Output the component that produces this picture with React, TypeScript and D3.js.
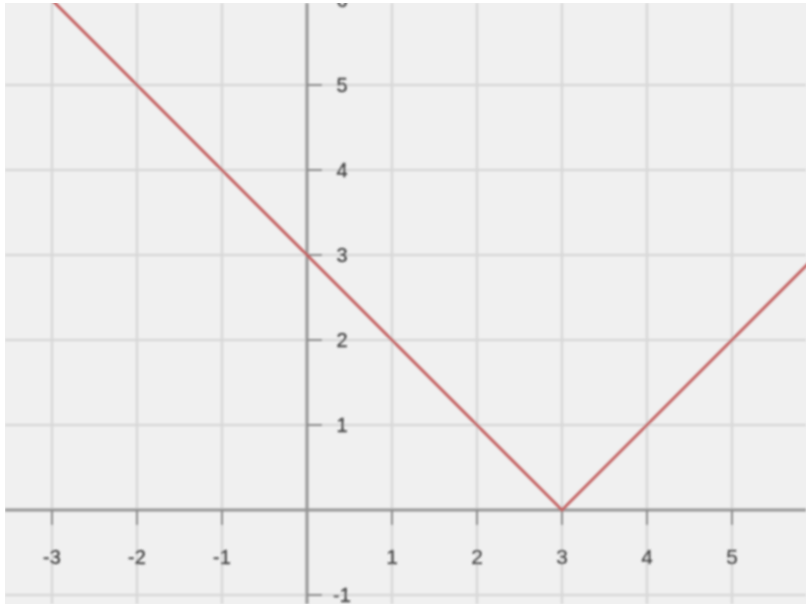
import * as d3 from 'd3';

// the traced curve (y = |x - 3|)
const curveX = [-4, 3, 6];
const curveY = [7, 0, 3];

const xTicks = [-3, -2, -1, 1, 2, 3, 4, 5];
const yTicks = [-1, 1, 2, 3, 4, 5, 6];
const xGrid = [-3, -2, -1, 0, 1, 2, 3, 4, 5];
const yGrid = [-1, 0, 1, 2, 3, 4, 5];

const W = 806;
const H = 604;
const left = 5;
const top = 3;

export default function App() {
  const x = d3.scaleLinear().domain([-3.553, 5.871]).range([left, W]);
  const y = d3.scaleLinear().domain([-1.106, 5.965]).range([H, top]);

  const line = d3
    .line<number>()
    .x((_, i) => x(curveX[i]))
    .y((d) => y(d));

  const font = '"Liberation Sans", Arial, sans-serif';

  return (
    <div style={{ position: 'fixed', left: 0, top: 0 }}>
      <svg width={W} height={H} style={{ display: 'block', background: '#ffffff' }}>
        <defs>
          <clipPath id="plot">
            <rect x={left} y={top} width={W - left} height={H - top} />
          </clipPath>
          <filter id="soft" x="-5%" y="-5%" width="110%" height="110%">
            <feGaussianBlur stdDeviation="1.1" />
          </filter>
        </defs>
        <g clipPath="url(#plot)">
          <rect x={left} y={top} width={W - left} height={H - top} fill="#f0f0f0" />
          <g filter="url(#soft)">
            {xGrid.map((t) => (
              <line key={'gx' + t} x1={x(t)} x2={x(t)} y1={top} y2={H} stroke="#d8d8d8" strokeWidth={2.5} />
            ))}
            {yGrid.map((t) => (
              <line key={'gy' + t} x1={left} x2={W} y1={y(t)} y2={y(t)} stroke="#d8d8d8" strokeWidth={2.5} />
            ))}
            {/* axes */}
            <line x1={x(0)} x2={x(0)} y1={top} y2={H} stroke="#969696" strokeWidth={3} />
            <line x1={left} x2={W} y1={y(0)} y2={y(0)} stroke="#969696" strokeWidth={3} />
            {xTicks.map((t) => (
              <line key={'tx' + t} x1={x(t)} x2={x(t)} y1={y(0)} y2={y(0) + 15} stroke="#8a8a8a" strokeWidth={2} />
            ))}
            {yTicks.map((t) => (
              <line key={'ty' + t} x1={x(0)} x2={x(0) + 15} y1={y(t)} y2={y(t)} stroke="#8a8a8a" strokeWidth={2} />
            ))}
            <path d={line(curveY) || ''} fill="none" stroke="#c46262" strokeWidth={3} />
            {xTicks.map((t) => (
              <text
                key={'lx' + t}
                x={x(t)}
                y={y(0) + 54}
                textAnchor="middle"
                fontFamily={font}
                fontSize={20}
                fill="#444"
                stroke="#444"
                strokeWidth={0.4}
              >
                {t}
              </text>
            ))}
            {yTicks.map((t) => (
              <text
                key={'ly' + t}
                x={x(0) + 35}
                y={y(t) + 7}
                textAnchor="middle"
                fontFamily={font}
                fontSize={20}
                fill="#444"
                stroke="#444"
                strokeWidth={0.4}
              >
                {t}
              </text>
            ))}
          </g>
        </g>
      </svg>
    </div>
  );
}
